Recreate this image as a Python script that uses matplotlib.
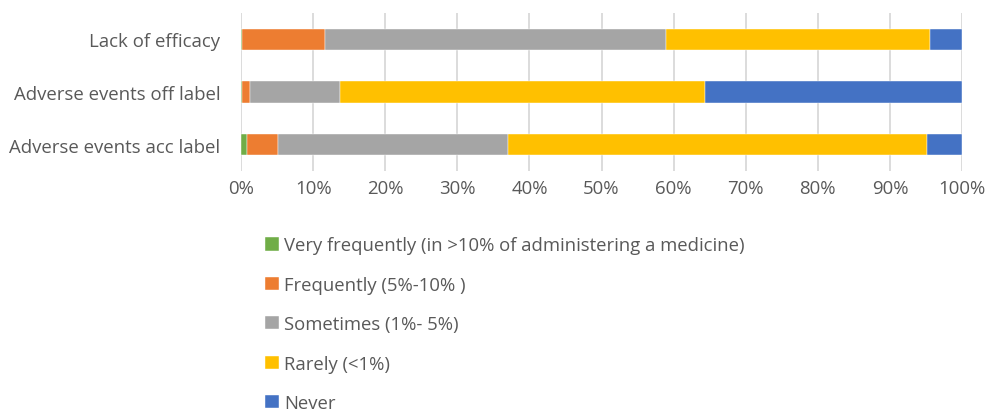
import matplotlib.pyplot as plt
import numpy as np

plt.rcParams['font.family'] = ['Open Sans', 'DejaVu Sans']

categories = ["Lack of efficacy", "Adverse events off label", "Adverse events acc label"]
series_names = [
    "Very frequently (in >10% of administering a medicine)",
    "Frequently (5%-10% )",
    "Sometimes (1%- 5%)",
    "Rarely (<1%)",
    "Never",
]
very_frequently = [0.2, 0.2, 0.8]
frequently = [11.5, 1.1, 4.3]
sometimes = [47.2, 12.5, 32.0]
rarely = [36.7, 50.6, 58.0]
never = [4.4, 35.6, 4.9]
colors = ["#70AD47", "#ED7D31", "#A5A5A5", "#FFC000", "#4472C4"]
tick_labels = [f"{v}%" for v in range(0, 101, 10)]

text_color = "#595959"
grid_color = "#D9D9D9"

fig = plt.figure(figsize=(9.89, 4.14), dpi=100)
ax = fig.add_axes([241 / 989, 1 - 172 / 414, (962 - 241) / 989, (172 - 14) / 414])

data = np.array([very_frequently, frequently, sometimes, rarely, never])
y = np.arange(len(categories))
left = np.zeros(len(categories))
handles = []
for vals, name, c in zip(data, series_names, colors):
    h = ax.barh(y, vals, left=left, height=0.41, color=c, edgecolor="white",
                linewidth=0.3, label=name, zorder=3)
    handles.append(h)
    left += vals

ax.set_xlim(0, 100)
ax.set_ylim(len(categories) - 0.5, -0.5)
ax.set_xticks(np.arange(0, 101, 10))
ax.set_xticklabels(tick_labels)
ax.set_yticks(y)
ax.set_yticklabels(categories)
ax.tick_params(axis="both", length=0, labelsize=13.4, colors=text_color)
ax.tick_params(axis="x", pad=6)
ax.tick_params(axis="y", pad=15)
ax.grid(axis="x", color=grid_color, linewidth=1.3, zorder=0)
for s in ax.spines.values():
    s.set_visible(False)

fig.legend(handles=handles, loc="upper left", bbox_to_anchor=(258 / 989, 1 - 230 / 414),
           frameon=False, fontsize=13.3, labelcolor=text_color, handlelength=0.72,
           handleheight=0.72, handletextpad=0.3, labelspacing=1.16, borderaxespad=0)

fig.savefig("out.png", dpi=100)
